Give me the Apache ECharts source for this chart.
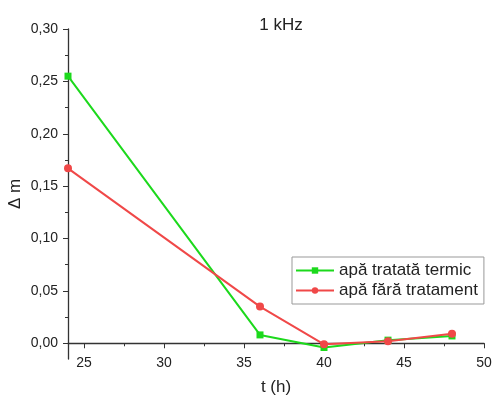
<!DOCTYPE html>
<html><head><meta charset="utf-8">
<script src="https://cdn.jsdelivr.net/npm/echarts@6/dist/echarts.min.js"></script>
<style>html,body{margin:0;padding:0;background:#fff}#c{width:493px;height:396px}</style>
</head><body><div id="c"></div>
<script>
var tValues = [24, 36, 40, 44, 48];
var tratat = [0.255, 0.008, -0.004, 0.003, 0.007];
var faraTratament = [0.167, 0.035, -0.001, 0.002, 0.009];
var xTicks = [25, 30, 35, 40, 45, 50];
var xMinorTicks = [27.5, 32.5, 37.5, 42.5, 47.5];
var yTicks = [0, 0.05, 0.10, 0.15, 0.20, 0.25, 0.30];
var yMinorTicks = [0.025, 0.075, 0.125, 0.175, 0.225, 0.275];
var names = ['apă tratată termic', 'apă fără tratament'];

var font = 'Liberation Sans, Arial, sans-serif';
var axisColor = '#333';
function pairs(xs, ys){ return xs.map(function(x,i){return [x, ys[i]];}); }

var chart = echarts.init(document.getElementById('c'));
chart.setOption({
  animation: false,
  backgroundColor: '#fff',
  title: { text: '1 kHz', left: 276, top: 12, textAlign: 'center',
    textStyle: { fontFamily: font, fontSize: 17, fontWeight: 'normal', color: '#222' } },
  grid: { left: 68, right: 9, top: 29, bottom: 37, containLabel: false, outerBoundsMode: 'none' },
  legend: {
    orient: 'vertical', left: 292, top: 257,
    data: names,
    itemWidth: 38, itemHeight: 8, itemGap: 3,
    padding: [5, 6, 5, 3],
    borderColor: '#999', borderWidth: 1,
    textStyle: { fontFamily: font, fontSize: 17, color: '#222' }
  },
  xAxis: [{
    type: 'value', min: 24, max: 50,
    name: 't (h)', nameLocation: 'middle', nameGap: 20, nameMoveOverlap: false,
    nameTextStyle: { fontFamily: font, fontSize: 17, color: '#222' },
    axisLine: { onZero: true, lineStyle: { color: axisColor, width: 1.3 } },
    axisTick: { show: true, customValues: xTicks, length: 5, inside: false, lineStyle: { color: axisColor } },
    axisLabel: { customValues: xTicks, fontFamily: font, fontSize: 14, color: '#222', margin: -3 },
    splitLine: { show: false }
  }, {
    type: 'value', min: 24, max: 50, position: 'bottom',
    axisLine: { show: false, onZero: true },
    axisTick: { show: true, customValues: xMinorTicks, length: 3, lineStyle: { color: axisColor } },
    axisLabel: { show: false },
    splitLine: { show: false }
  }],
  yAxis: [{
    type: 'value', min: -0.015, max: 0.30,
    name: 'Δ m', nameLocation: 'middle', nameGap: 44, nameRotate: 90, nameMoveOverlap: false,
    nameTextStyle: { fontFamily: font, fontSize: 17, color: '#222' },
    axisLine: { show: true, onZero: false, lineStyle: { color: axisColor, width: 1.3 } },
    axisTick: { show: true, customValues: yTicks, length: 5, lineStyle: { color: axisColor } },
    axisLabel: { customValues: yTicks, fontFamily: font, fontSize: 14, color: '#222', margin: 10,
      formatter: function(v){ return v.toFixed(2).replace('.', ','); } },
    splitLine: { show: false }
  }, {
    type: 'value', min: -0.015, max: 0.30, position: 'left',
    axisLine: { show: false, onZero: false },
    axisTick: { show: true, customValues: yMinorTicks, length: 3, lineStyle: { color: axisColor } },
    axisLabel: { show: false },
    splitLine: { show: false }
  }],
  series: [{
    name: names[0], type: 'line', data: pairs(tValues, tratat),
    xAxisIndex: 0, yAxisIndex: 0,
    symbol: 'rect', symbolSize: 7,
    itemStyle: { color: '#1cd91c' },
    lineStyle: { color: '#1cd91c', width: 2 }
  }, {
    name: names[1], type: 'line', data: pairs(tValues, faraTratament),
    xAxisIndex: 0, yAxisIndex: 0,
    symbol: 'circle', symbolSize: 8,
    itemStyle: { color: '#f04848' },
    lineStyle: { color: '#f04848', width: 2 }
  }]
});
</script></body></html>
